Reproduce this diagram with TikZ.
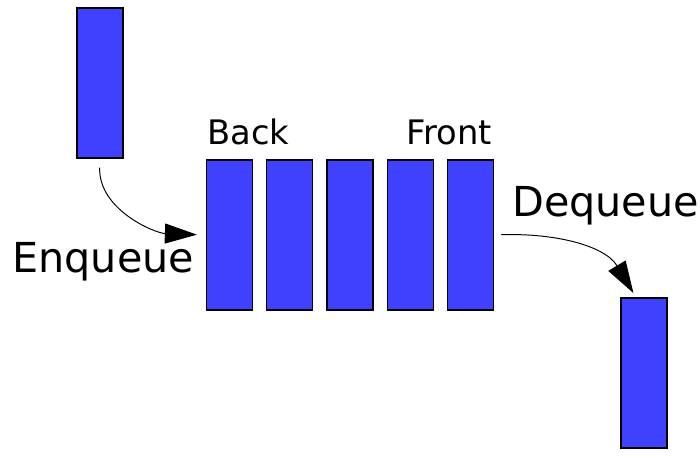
\documentclass[tikz,border=0pt]{standalone}
\usepackage{fontspec}
\setmainfont{DejaVu Sans}
\usetikzlibrary{arrows.meta}
\definecolor{qblue}{RGB}{64,64,255}

\begin{document}
\begin{tikzpicture}[
        block/.style = {draw=black, fill=qblue, line width=0.7pt, minimum width=0.92cm, minimum height=3cm, inner sep=0pt},
        bigtext/.style = {font=\fontsize{23.5}{28}\selectfont, inner sep=0pt},
        smalltext/.style = {font=\fontsize{19.2}{23}\selectfont, inner sep=0pt},
        move/.style = {-{Triangle[length=0.64cm,width=0.4cm]}, line width=0.55pt}]
        \useasboundingbox (0,0) rectangle (14,9.16);
        % blocks
        \node[block] (in) at (2.0,7.5) {};
        \foreach \i in {1,...,5}
            \node[block] (q\i) at ({4.59+1.205*(\i-1)},4.46) {};
        \node[block] (out) at (12.88,1.7) {};
        % labels
        \node[smalltext, anchor=base west] (back) at (4.14,6.26) {Back};
        \node[smalltext, anchor=base east] (front) at (9.84,6.26) {Front};
        \node[bigtext, anchor=base west] (enq) at (0.24,3.7) {Enqueue};
        \node[bigtext, anchor=base west] (deq) at (10.24,4.82) {Dequeue};
        % arrows
        \draw[move, shorten <=0.18cm, shorten >=0.18cm] (in.south) to[out=-92, in=178] (q1.west);
        \draw[move, shorten <=0.14cm, shorten >=0.1cm] (q5.east) to[out=2, in=121] ([xshift=-0.16cm]out.north);
      \end{tikzpicture}
\end{document}
